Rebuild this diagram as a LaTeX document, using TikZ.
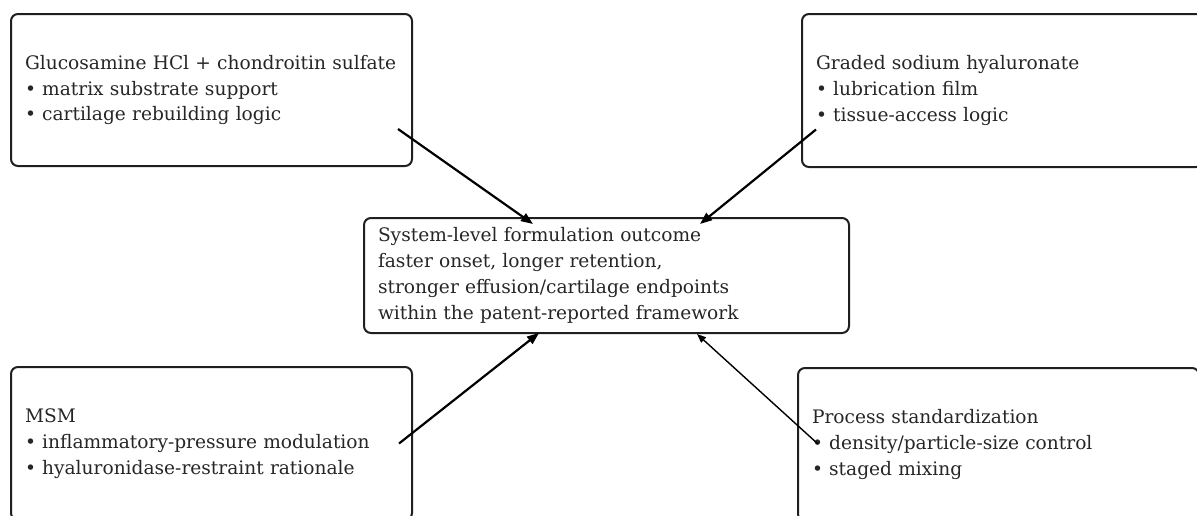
\documentclass[tikz,border=0pt]{standalone}
\usepackage{fontspec}
\setmainfont{DejaVu Serif}
\usetikzlibrary{arrows.meta,calc}
\begin{document}
\begin{tikzpicture}[x=1pt,y=-1pt,
  box/.style={draw=black!88, line width=2pt, rounded corners=7pt, align=left,
    text width=#1, inner xsep=14pt, inner ysep=0pt, anchor=north west,
    font=\fontsize{18.6}{25.8}\selectfont, text=black!85},
  arr/.style={draw=black, line width=2.2pt, -{Triangle[length=12pt,width=9pt]}},
  thinarr/.style={draw=black, line width=1.4pt, -{Triangle[length=9pt,width=7pt]}}]
\path[use as bounding box, clip] (0,0) rectangle (1197,515);
\node[box=373pt, minimum width=401pt, minimum height=152pt] (tl) at (10,13)
  {Glucosamine HCl + chondroitin sulfate\\• matrix substrate support\\• cartilage rebuilding logic};
\node[box=373pt, minimum width=401pt, minimum height=153pt] (tr) at (801,13)
  {Graded sodium hyaluronate\\• lubrication film\\• tissue-access logic};
\node[box=457pt, minimum width=485pt, minimum height=115pt] (c) at (363,217)
  {System-level formulation outcome\\faster onset, longer retention,\\stronger effusion/cartilage endpoints\\within the patent-reported framework};
\node[box=373pt, minimum width=401pt, minimum height=153pt] (bl) at (10,366)
  {MSM\\• inflammatory-pressure modulation\\• hyaluronidase-restraint rationale};
\node[box=373pt, minimum width=401pt, minimum height=153pt] (br) at (797,367)
  {Process standardization\\• density/particle-size control\\• staged mixing};
\draw[arr] ($(tl.east)+(-15,39)$) -- ($(c.north west)+(170,7)$);
\draw[arr] ($(tr.west)+(15,39)$) -- ($(c.north west)+(337,7)$);
\draw[arr] ($(bl.east)+(-14,0)$) -- ($(c.south west)+(176,-1)$);
\draw[thinarr] ($(br.west)+(21,-0.5)$) -- ($(c.south west)+(334,0)$);
\end{tikzpicture}
\end{document}
